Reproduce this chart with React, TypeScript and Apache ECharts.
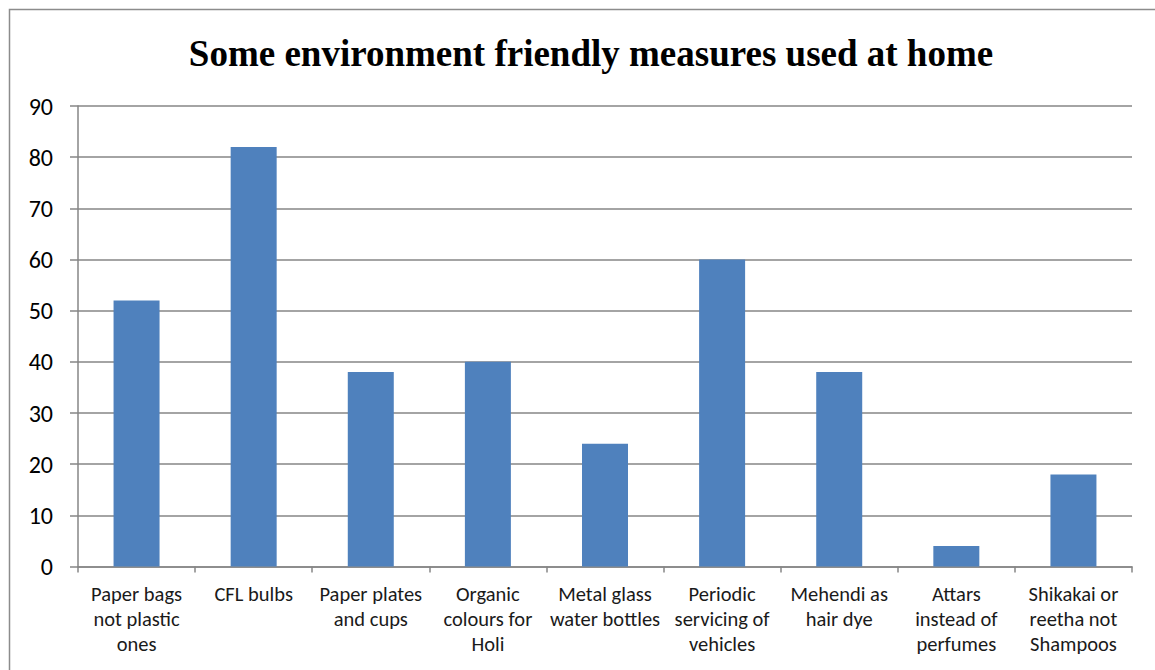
import React, { useEffect, useRef } from "react";
import * as echarts from "echarts";

const chartTitle = "Some environment friendly measures used at home";

const categories = [
  "Paper bags\nnot plastic\nones",
  "CFL bulbs",
  "Paper plates\nand cups",
  "Organic\ncolours for\nHoli",
  "Metal glass\nwater bottles",
  "Periodic\nservicing of\nvehicles",
  "Mehendi as\nhair dye",
  "Attars\ninstead of\nperfumes",
  "Shikakai or\nreetha not\nShampoos",
];

const values = [52, 82, 38, 40, 24, 60, 38, 4, 18];

const yMin = 0;
const yMax = 90;
const yStep = 10;

const labelFont = "Carlito, Calibri, 'Open Sans', 'Noto Sans', sans-serif";

export default function App() {
  const ref = useRef<HTMLDivElement>(null);

  useEffect(() => {
    if (!ref.current) return;
    const chart = echarts.init(ref.current, null, { renderer: "svg" });
    chart.setOption({
      animation: false,
      backgroundColor: "#ffffff",
      title: {
        text: chartTitle,
        left: 586,
        textAlign: "center",
        top: 30,
        textStyle: {
          fontFamily: "'Liberation Serif', 'Times New Roman', serif",
          fontWeight: "bold",
          fontSize: 37,
          color: "#000000",
        },
      },
      graphic: [
        {
          type: "rect",
          shape: { x: 9.5, y: 9.5, width: 1160, height: 700 },
          style: { fill: "none", stroke: "#8c8c8c", lineWidth: 1.5 },
          silent: true,
        },
      ],
      grid: { left: 78, right: 23, top: 106, bottom: 103.5 },
      xAxis: {
        type: "category",
        data: categories,
        axisLine: { show: true, lineStyle: { color: "#868686", width: 1.5 } },
        axisTick: {
          show: true,
          alignWithLabel: false,
          length: 6,
          lineStyle: { color: "#868686", width: 1.5 },
        },
        axisLabel: {
          interval: 0,
          margin: 15,
          fontFamily: labelFont,
          fontSize: 20.5,
          lineHeight: 25,
          color: "#1a1a1a",
          align: "center",
        },
      },
      yAxis: {
        type: "value",
        min: yMin,
        max: yMax,
        interval: yStep,
        axisLine: { show: true, lineStyle: { color: "#868686", width: 1.5 } },
        axisTick: {
          show: true,
          length: 8,
          lineStyle: { color: "#868686", width: 1.5 },
        },
        splitLine: { show: true, lineStyle: { color: "#868686", width: 1.5 } },
        axisLabel: {
          margin: 25,
          fontFamily: labelFont,
          fontSize: 24,
          color: "#000000",
        },
      },
      series: [
        {
          type: "bar",
          data: values,
          barWidth: 46,
          itemStyle: { color: "#4f81bd" },
        },
      ],
    });
    return () => chart.dispose();
  }, []);

  return (
    <div
      ref={ref}
      style={{ position: "fixed", left: 0, top: 0, width: 1155, height: 670 }}
    />
  );
}
